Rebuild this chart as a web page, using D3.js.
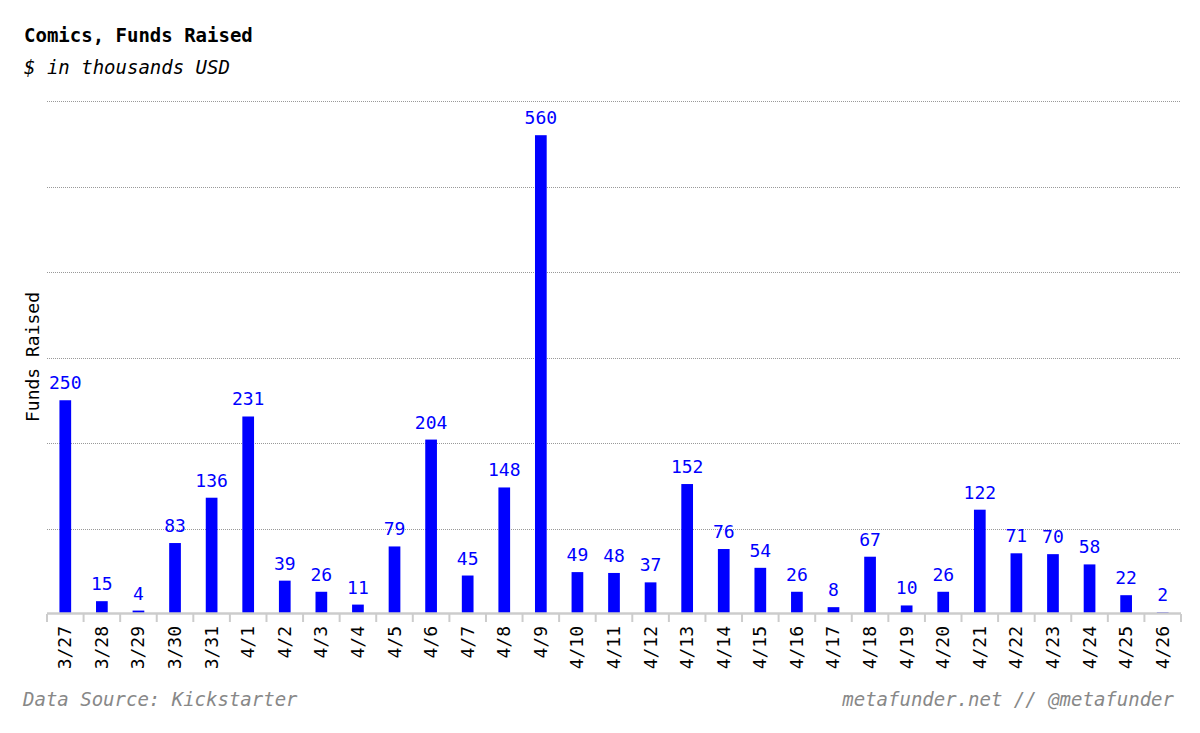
<!DOCTYPE html>
<html>
<head>
<meta charset="utf-8">
<script src="https://cdn.jsdelivr.net/npm/d3@7"></script>
<style>
  body { margin: 0; background: #fff; }
  text { font-family: "DejaVu Sans Mono", monospace; }
</style>
</head>
<body>
<div id="chart"></div>
<script>
// daily comics funding, $K
const days = ["3/27","3/28","3/29","3/30","3/31","4/1","4/2","4/3","4/4","4/5","4/6","4/7","4/8","4/9","4/10",
  "4/11","4/12","4/13","4/14","4/15","4/16","4/17","4/18","4/19","4/20","4/21","4/22","4/23","4/24","4/25","4/26"];
const funds = [250,15,4,83,136,231,39,26,11,79,204,45,148,560,49,48,37,152,76,54,26,8,67,10,26,122,71,70,58,22,2];
const gridTicks = [100,200,300,400,500,600];

const width = 1200, height = 733;
const margin = {top: 101, right: 19, bottom: 119, left: 47};

const svg = d3.select("#chart").append("svg")
    .attr("width", width)
    .attr("height", height);

const x = d3.scaleBand()
    .domain(days)
    .range([margin.left, width - margin.right])
    .paddingInner(0.68)
    .paddingOuter(0.34);

const y = d3.scaleLinear()
    .domain([0, 600])
    .range([height - margin.bottom, margin.top]);

// gridlines
svg.append("g")
    .selectAll("line")
    .data(gridTicks)
    .join("line")
    .attr("x1", margin.left)
    .attr("x2", width - margin.right)
    .attr("y1", d => Math.round(y(d)) + 0.5)
    .attr("y2", d => Math.round(y(d)) + 0.5)
    .attr("stroke", "#999")
    .attr("stroke-width", 1)
    .attr("stroke-dasharray", "1,1");

// bars
svg.append("g")
    .selectAll("rect")
    .data(funds)
    .join("rect")
    .attr("x", (d, i) => x(days[i]))
    .attr("width", x.bandwidth())
    .attr("y", d => y(d))
    .attr("height", d => y(0) - y(d))
    .attr("fill", "#0000ff");

svg.append("g")
    .selectAll("text")
    .data(funds)
    .join("text")
    .attr("x", (d, i) => x(days[i]) + x.bandwidth() / 2)
    .attr("y", d => y(d) - 11)
    .attr("text-anchor", "middle")
    .style("font-size", "18px")
    .style("fill", "#0000ff")
    .text(d => d);

// x axis: ticks at band edges
const step = x.step();
const edges = d3.range(days.length + 1).map(i => margin.left + i * step);
const axis = svg.append("g");
axis.append("line")
    .attr("x1", margin.left).attr("x2", width - margin.right)
    .attr("y1", y(0) - 0.5).attr("y2", y(0) - 0.5)
    .attr("stroke", "#ccc").attr("stroke-width", 2.5);
axis.selectAll("line.tick")
    .data(edges)
    .join("line")
    .attr("class", "tick")
    .attr("x1", d => d).attr("x2", d => d)
    .attr("y1", y(0)).attr("y2", y(0) + 8)
    .attr("stroke", "#ccc").attr("stroke-width", 2);
axis.selectAll("text")
    .data(days)
    .join("text")
    .attr("transform", d => `translate(${x(d) + x.bandwidth() / 2 + 6},${y(0) + 12}) rotate(-90)`)
    .attr("text-anchor", "end")
    .style("font-size", "18px")
    .style("fill", "#000")
    .text(d => d);

// y axis title
svg.append("text")
    .attr("transform", `translate(39,357) rotate(-90)`)
    .attr("text-anchor", "middle")
    .style("font-size", "18px")
    .text("Funds Raised");

// titles
svg.append("text")
    .attr("x", 24).attr("y", 42)
    .style("font-size", "19px")
    .style("font-weight", "bold")
    .text("Comics, Funds Raised");
svg.append("text")
    .attr("x", 24).attr("y", 74)
    .style("font-size", "19px")
    .style("font-style", "italic")
    .text("$ in thousands USD");

// footer
svg.append("text")
    .attr("x", 23).attr("y", 706)
    .style("font-size", "19px")
    .style("font-style", "italic")
    .style("fill", "#888")
    .text("Data Source: Kickstarter");
svg.append("text")
    .attr("x", 1174).attr("y", 706)
    .attr("text-anchor", "end")
    .style("font-size", "19px")
    .style("font-style", "italic")
    .style("fill", "#888")
    .text("metafunder.net // @metafunder");
</script>
</body>
</html>
